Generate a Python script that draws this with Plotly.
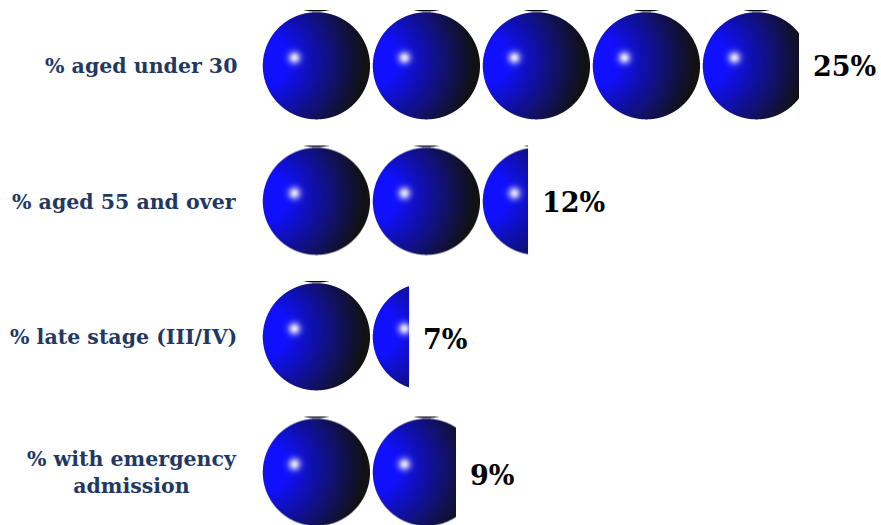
import base64
import struct
import zlib

import numpy as np
import plotly.graph_objects as go

categories = ["% aged under 30", "% aged 55 and over", "% late stage (III/IV)", "% with emergency<br>admission"]
values = [24.4, 12.1, 6.7, 8.8]
value_labels = ["25%", "12%", "7%", "9%"]

PCT_PER_SPHERE = 5
PX_PER_PCT = 22
ROW_PX = 135.5
CELL_W = 110
CELL_H = 112


def sphere_pixels():
    # the picture of one sphere, drawn at 4x and averaged down for soft edges
    s = 4
    ys, xs = np.mgrid[0:CELL_H * s, 0:CELL_W * s]
    xs = (xs + 0.5) / s
    ys = (ys + 0.5) / s
    cx, cy, r = 54.4, 55.8, 53.6
    u = (xs - cx) / r
    v = (ys - cy) / r
    inside = u ** 2 + v ** 2 <= 1

    t = np.clip((np.hypot(u + 1.0, v + 0.1) - 0.45) / 1.45, 0, 1)
    blue = np.array([16.0, 16.0, 255.0])
    dark = np.array([18.0, 18.0, 18.0])
    rgb = blue[None, None, :] * (1 - t[..., None]) + dark[None, None, :] * t[..., None]

    glow = np.exp(-((u + 0.41) ** 2 + (v + 0.15) ** 2) / (2 * 0.08 ** 2))[..., None]
    rgb = rgb * (1 - glow) + np.array([225.0, 225.0, 255.0]) * glow

    # white page behind, thin dark sliver over each sphere
    rgb[~inside] = 255.0
    sliver = np.hypot(xs - cx, ys - (cy - 107.8)) <= r
    rgb[sliver] = [8.0, 8.0, 20.0]

    out = rgb.reshape(CELL_H, s, CELL_W, s, 3).mean(axis=(1, 3))
    return np.clip(out, 0, 255).astype(np.uint8)


def png_uri(arr):
    h, w = arr.shape[:2]

    def chunk(tag, data):
        body = tag + data
        return struct.pack(">I", len(data)) + body + struct.pack(">I", zlib.crc32(body))

    raw = b"".join(b"\x00" + arr[i].tobytes() for i in range(h))
    png = b"\x89PNG\r\n\x1a\n" + chunk(b"IHDR", struct.pack(">IIBBBBB", w, h, 8, 2, 0, 0, 0)) \
        + chunk(b"IDAT", zlib.compress(raw)) + chunk(b"IEND", b"")
    return "data:image/png;base64," + base64.b64encode(png).decode()


tile = sphere_pixels()
row_h = CELL_H / ROW_PX
images = []
for row, val in enumerate(values):
    n = 0
    while n * PCT_PER_SPHERE < val:
        part = min(val - n * PCT_PER_SPHERE, PCT_PER_SPHERE) / PCT_PER_SPHERE
        cols = max(int(round(part * CELL_W)), 1)
        images.append(dict(
            source=png_uri(tile[:, :cols]),
            xref="x", yref="y",
            x=n * PCT_PER_SPHERE, y=row - row_h / 2,
            sizex=PCT_PER_SPHERE * cols / CELL_W, sizey=row_h,
            xanchor="left", yanchor="top",
            sizing="stretch", layer="above",
        ))
        n += 1

fig = go.Figure(go.Bar(
    y=categories, x=values, orientation="h",
    marker=dict(color="rgba(0,0,0,0)"),
    hoverinfo="skip",
))

annotations = []
for row, cat in enumerate(categories):
    annotations.append(dict(
        x=0, y=row, xref="paper", yref="y", text=cat,
        xanchor="right", yanchor="middle", align="center", xshift=-23,
        showarrow=False,
        font=dict(family="DejaVu Serif", size=20.5, color="#1f3864", weight="bold"),
    ))
    annotations.append(dict(
        x=values[row], y=row, xref="x", yref="y", text=value_labels[row],
        xanchor="left", yanchor="middle", xshift=12, yshift=-row,
        showarrow=False,
        font=dict(family="DejaVu Serif", size=27, color="#000000", weight="bold"),
    ))

fig.update_layout(
    width=881, height=525,
    margin=dict(l=262, r=0, t=0, b=0),
    paper_bgcolor="white", plot_bgcolor="white",
    images=images, annotations=annotations, showlegend=False,
    xaxis=dict(range=[0, 619 / PX_PER_PCT], visible=False),
    yaxis=dict(type="category", categoryorder="array", categoryarray=categories,
               range=[(525 - 66) / ROW_PX, -66 / ROW_PX], visible=False),
)

fig.write_html("out.html", config=dict(displayModeBar=False),
               post_script="document.body.style.margin='0';document.body.style.overflow='hidden';")
